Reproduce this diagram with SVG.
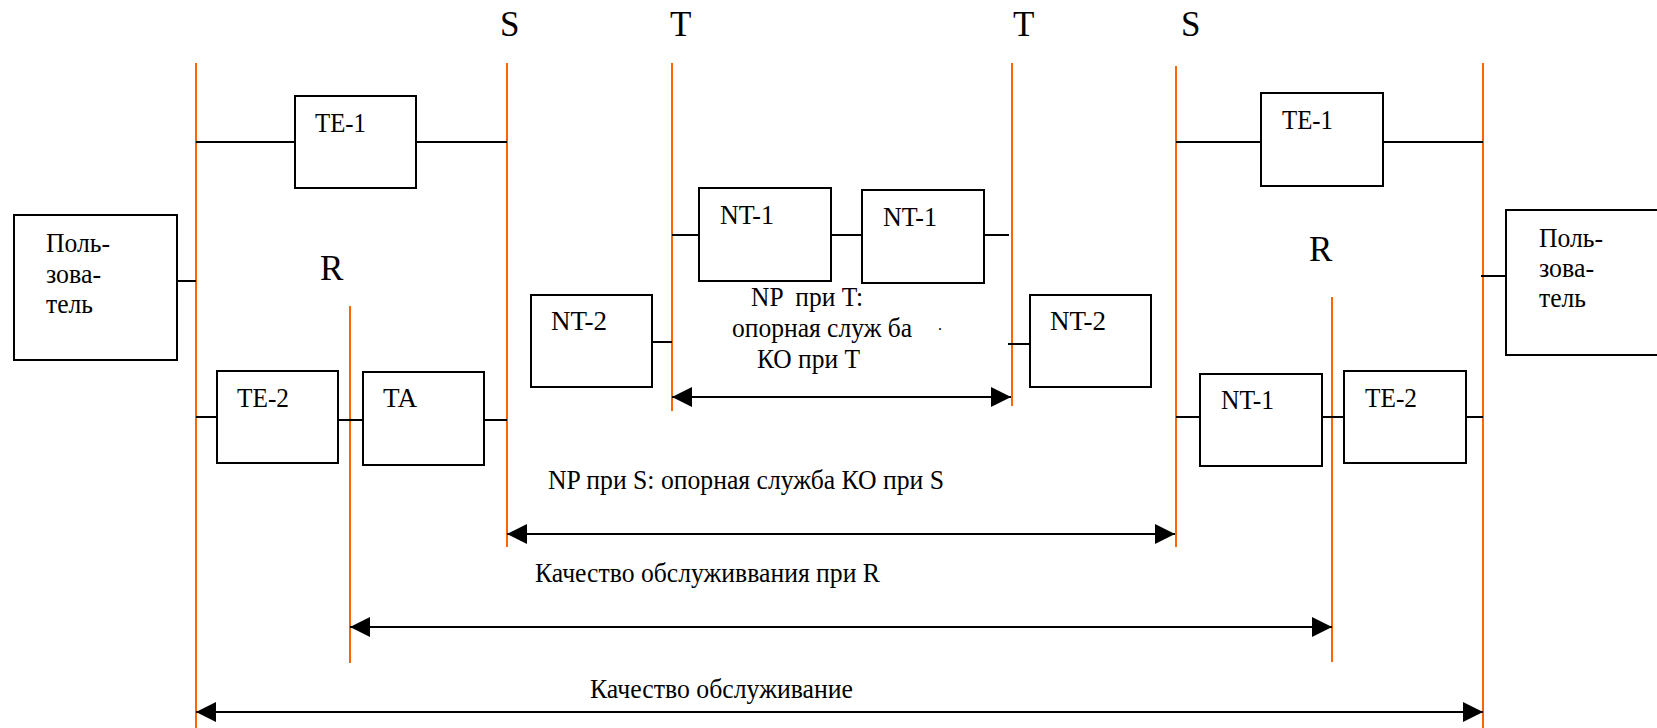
<svg xmlns="http://www.w3.org/2000/svg" width="1657" height="728" viewBox="0 0 1657 728">
<style>
text{font-family:"Liberation Serif","Times New Roman",serif;fill:#000}
.lbl{font-size:27px}
.big{font-size:35px}
.box{fill:#fff;stroke:#000;stroke-width:2}
.ref{stroke:#FF6600;stroke-width:2;fill:none}
.con{stroke:#000;stroke-width:2;fill:none}
.arr{stroke:#000;stroke-width:2;fill:none;marker-start:url(#ah);marker-end:url(#ah)}
</style>
<defs>
<marker id="ah" viewBox="0 0 20 20" refX="20" refY="10" markerWidth="20" markerHeight="20" markerUnits="userSpaceOnUse" orient="auto-start-reverse">
<path d="M0,0 L20,10 L0,20 Z" fill="#000"/>
</marker>
</defs>
<g id="reference-lines">
<line class="ref" x1="196" y1="63" x2="196" y2="728"/>
<line class="ref" x1="350" y1="306" x2="350" y2="663"/>
<line class="ref" x1="507" y1="63" x2="507" y2="547"/>
<line class="ref" x1="672" y1="63" x2="672" y2="411"/>
<line class="ref" x1="1012" y1="63" x2="1012" y2="406"/>
<line class="ref" x1="1176" y1="66" x2="1176" y2="547"/>
<line class="ref" x1="1332" y1="297" x2="1332" y2="662"/>
<line class="ref" x1="1483" y1="63" x2="1483" y2="728"/>
</g>
<g id="point-labels">
<text class="big" x="500" y="36">S</text>
<text class="big" x="670" y="36">T</text>
<text class="big" x="1013" y="36">T</text>
<text class="big" x="1181" y="36">S</text>
<text class="big" x="320" y="280">R</text>
<text class="big" x="1309" y="261">R</text>
</g>
<g id="connectors">
<line class="con" x1="196" y1="142" x2="295" y2="142"/>
<line class="con" x1="416" y1="142" x2="507" y2="142"/>
<line class="con" x1="177" y1="281" x2="196" y2="281"/>
<line class="con" x1="196" y1="417" x2="217" y2="417"/>
<line class="con" x1="338" y1="420" x2="363" y2="420"/>
<line class="con" x1="484" y1="420" x2="507" y2="420"/>
<line class="con" x1="672" y1="235" x2="699" y2="235"/>
<line class="con" x1="831" y1="235" x2="862" y2="235"/>
<line class="con" x1="984" y1="235" x2="1009" y2="235"/>
<line class="con" x1="648" y1="342" x2="672" y2="342"/>
<line class="con" x1="1008" y1="344" x2="1030" y2="344"/>
<line class="con" x1="1176" y1="142" x2="1261" y2="142"/>
<line class="con" x1="1383" y1="142" x2="1483" y2="142"/>
<line class="con" x1="1481" y1="276" x2="1506" y2="276"/>
<line class="con" x1="1176" y1="417" x2="1200" y2="417"/>
<line class="con" x1="1322" y1="417" x2="1344" y2="417"/>
<line class="con" x1="1466" y1="417" x2="1483" y2="417"/>
<line class="arr" x1="672" y1="397" x2="1011" y2="397"/>
<line class="arr" x1="507" y1="534" x2="1175" y2="534"/>
<line class="arr" x1="350" y1="627" x2="1332" y2="627"/>
<line class="arr" x1="196" y1="712" x2="1483" y2="712"/>
</g>
<g id="user-left">
<rect class="box" x="14" y="215" width="163" height="145"/>
<text class="lbl" x="46" y="252" textLength="64" lengthAdjust="spacingAndGlyphs">Поль-</text>
<text class="lbl" x="46" y="283" textLength="55" lengthAdjust="spacingAndGlyphs">зова-</text>
<text class="lbl" x="46" y="313" textLength="47" lengthAdjust="spacingAndGlyphs">тель</text>
</g>
<g id="te1-left">
<rect class="box" x="295" y="96" width="121" height="92"/>
<text class="lbl" x="315" y="132" textLength="51" lengthAdjust="spacingAndGlyphs">TE-1</text>
</g>
<g id="te2-left">
<rect class="box" x="217" y="371" width="121" height="92"/>
<text class="lbl" x="237" y="407" textLength="52" lengthAdjust="spacingAndGlyphs">TE-2</text>
</g>
<g id="ta">
<rect class="box" x="363" y="372" width="121" height="93"/>
<text class="lbl" x="383" y="407" textLength="34" lengthAdjust="spacingAndGlyphs">TA</text>
</g>
<g id="nt2-left">
<rect class="box" x="531" y="295" width="121" height="92"/>
<text class="lbl" x="551" y="330" textLength="56" lengthAdjust="spacingAndGlyphs">NT-2</text>
</g>
<g id="nt1-a">
<rect class="box" x="699" y="188" width="132" height="93"/>
<text class="lbl" x="720" y="224" textLength="54" lengthAdjust="spacingAndGlyphs">NT-1</text>
</g>
<g id="nt1-b">
<rect class="box" x="862" y="190" width="122" height="93"/>
<text class="lbl" x="883" y="226" textLength="54" lengthAdjust="spacingAndGlyphs">NT-1</text>
</g>
<g id="nt2-right">
<rect class="box" x="1030" y="295" width="121" height="92"/>
<text class="lbl" x="1050" y="330" textLength="56" lengthAdjust="spacingAndGlyphs">NT-2</text>
</g>
<g id="te1-right">
<rect class="box" x="1261" y="93" width="122" height="93"/>
<text class="lbl" x="1282" y="129" textLength="51" lengthAdjust="spacingAndGlyphs">TE-1</text>
</g>
<g id="nt1-right">
<rect class="box" x="1200" y="374" width="122" height="92"/>
<text class="lbl" x="1221" y="409" textLength="53" lengthAdjust="spacingAndGlyphs">NT-1</text>
</g>
<g id="te2-right">
<rect class="box" x="1344" y="371" width="122" height="92"/>
<text class="lbl" x="1365" y="407" textLength="52" lengthAdjust="spacingAndGlyphs">TE-2</text>
</g>
<g id="user-right">
<rect class="box" x="1506" y="210" width="160" height="145"/>
<text class="lbl" x="1539" y="247" textLength="64" lengthAdjust="spacingAndGlyphs">Поль-</text>
<text class="lbl" x="1539" y="277" textLength="55" lengthAdjust="spacingAndGlyphs">зова-</text>
<text class="lbl" x="1539" y="307" textLength="47" lengthAdjust="spacingAndGlyphs">тель</text>
</g>
<g id="span-labels">
<text class="lbl" x="751" y="306" xml:space="preserve" textLength="112" lengthAdjust="spacingAndGlyphs">NP  при T:</text>
<text class="lbl" x="732" y="337" textLength="180" lengthAdjust="spacingAndGlyphs">опорная служ ба</text>
<text style="font-size:16px" x="938" y="330">.</text>
<text class="lbl" x="757" y="368" textLength="103" lengthAdjust="spacingAndGlyphs">КО при T</text>
<text class="lbl" x="548" y="489" textLength="396" lengthAdjust="spacingAndGlyphs">NP при S: опорная служба КО при S</text>
<text class="lbl" x="535" y="582" textLength="345" lengthAdjust="spacingAndGlyphs">Качество обслуживвания при R</text>
<text class="lbl" x="590" y="698" textLength="263" lengthAdjust="spacingAndGlyphs">Качество обслуживание</text>
</g>
</svg>
